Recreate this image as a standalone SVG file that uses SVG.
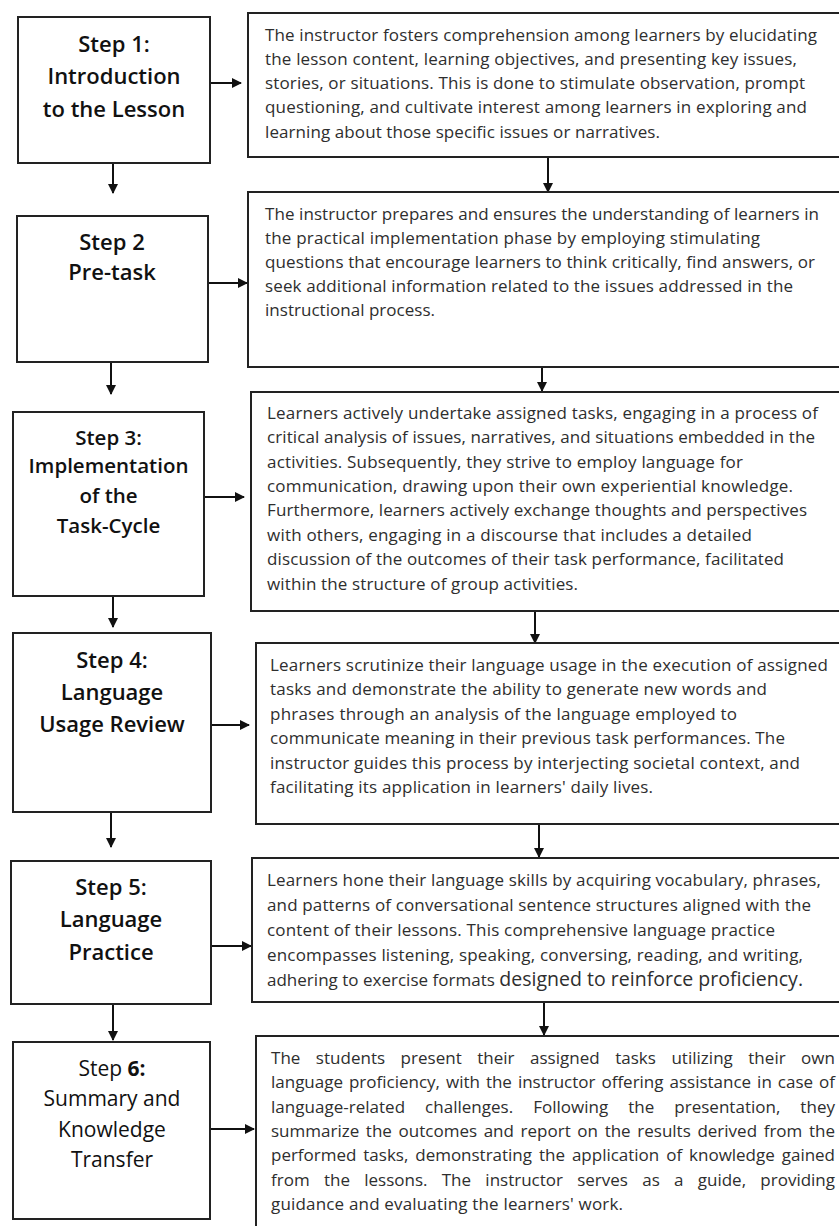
<svg xmlns="http://www.w3.org/2000/svg" width="839" height="1226" viewBox="0 0 839 1226">
<style>
.box{fill:#fff;stroke:#222;stroke-width:2}
.t{font-family:"Open Sans","Noto Sans","Liberation Sans",sans-serif;font-size:22px;font-weight:600;fill:#111;text-anchor:middle}
.t3{font-size:20.5px;font-weight:600}
.t6{font-size:21px;font-weight:400}
.b{font-family:"Open Sans","Noto Sans","Liberation Sans",sans-serif;font-size:17px;fill:#2e2e2e}
.c{stroke:#111;stroke-width:2;fill:none;marker-end:url(#ah)}
</style>
<defs>
<marker id="ah" markerWidth="10" markerHeight="10" refX="9" refY="5" orient="auto" markerUnits="userSpaceOnUse">
<path d="M0,0 L10,5 L0,10 Z" fill="#111"/>
</marker>
</defs>
<rect width="839" height="1226" fill="#fff"/>

<g id="connectors">
<line class="c" x1="210" y1="83" x2="241" y2="83"/>
<line class="c" x1="113" y1="163" x2="113" y2="193"/>
<line class="c" x1="548" y1="157" x2="548" y2="192"/>
<line class="c" x1="208" y1="283" x2="247" y2="283"/>
<line class="c" x1="111" y1="362" x2="111" y2="394"/>
<line class="c" x1="542" y1="367" x2="542" y2="391"/>
<line class="c" x1="204" y1="497" x2="244" y2="497"/>
<line class="c" x1="113" y1="596" x2="113" y2="627"/>
<line class="c" x1="535" y1="611" x2="535" y2="643"/>
<line class="c" x1="211" y1="725" x2="249" y2="725"/>
<line class="c" x1="111" y1="812" x2="111" y2="847"/>
<line class="c" x1="539" y1="824" x2="539" y2="857"/>
<line class="c" x1="211" y1="946" x2="251" y2="946"/>
<line class="c" x1="113" y1="1004" x2="113" y2="1040"/>
<line class="c" x1="544" y1="1002" x2="544" y2="1035"/>
<line class="c" x1="210" y1="1129" x2="254" y2="1129"/>
</g>

<g id="step1">
<rect class="box" x="18" y="17" width="192" height="146"/>
<text class="t" x="114" y="52">Step 1:</text>
<text class="t" x="114" y="84">Introduction</text>
<text class="t" x="114" y="117">to the Lesson</text>
</g>
<g id="desc1">
<rect class="box" x="248" y="13" width="600" height="144"/>
<text class="b" x="265" y="41" textLength="552">The instructor fosters comprehension among learners by elucidating</text>
<text class="b" x="265" y="65" textLength="532">the lesson content, learning objectives, and presenting key issues,</text>
<text class="b" x="265" y="89" textLength="540">stories, or situations. This is done to stimulate observation, prompt</text>
<text class="b" x="265" y="113" textLength="542">questioning, and cultivate interest among learners in exploring and</text>
<text class="b" x="265" y="138" textLength="395">learning about those specific issues or narratives.</text>
</g>

<g id="step2">
<rect class="box" x="17" y="216" width="191" height="146"/>
<text class="t" x="112" y="250">Step 2</text>
<text class="t" x="112" y="280">Pre-task</text>
</g>
<g id="desc2">
<rect class="box" x="248" y="192" width="600" height="175"/>
<text class="b" x="265" y="220" textLength="554">The instructor prepares and ensures the understanding of learners in</text>
<text class="b" x="265" y="244" textLength="495">the practical implementation phase by employing stimulating</text>
<text class="b" x="265" y="268" textLength="550">questions that encourage learners to think critically, find answers, or</text>
<text class="b" x="265" y="292" textLength="528">seek additional information related to the issues addressed in the</text>
<text class="b" x="265" y="316" textLength="170">instructional process.</text>
</g>

<g id="step3">
<rect class="box" x="13" y="412" width="191" height="184"/>
<text class="t t3" x="108.5" y="445">Step 3:</text>
<text class="t t3" x="108.5" y="473">Implementation</text>
<text class="t t3" x="108.5" y="503">of the</text>
<text class="t t3" x="108.5" y="533">Task-Cycle</text>
</g>
<g id="desc3">
<rect class="box" x="251" y="392" width="600" height="219"/>
<text class="b" x="267" y="419" textLength="551">Learners actively undertake assigned tasks, engaging in a process of</text>
<text class="b" x="267" y="443" textLength="548">critical analysis of issues, narratives, and situations embedded in the</text>
<text class="b" x="267" y="468" textLength="476">activities. Subsequently, they strive to employ language for</text>
<text class="b" x="267" y="492" textLength="526">communication, drawing upon their own experiential knowledge.</text>
<text class="b" x="267" y="516" textLength="540">Furthermore, learners actively exchange thoughts and perspectives</text>
<text class="b" x="267" y="541" textLength="485">with others, engaging in a discourse that includes a detailed</text>
<text class="b" x="267" y="565" textLength="517">discussion of the outcomes of their task performance, facilitated</text>
<text class="b" x="267" y="590" textLength="311">within the structure of group activities.</text>
</g>

<g id="step4">
<rect class="box" x="13" y="633" width="198" height="179"/>
<text class="t" x="112" y="668">Step 4:</text>
<text class="t" x="112" y="700">Language</text>
<text class="t" x="112" y="732">Usage Review</text>
</g>
<g id="desc4">
<rect class="box" x="256" y="643" width="600" height="181"/>
<text class="b" x="270" y="671" textLength="558">Learners scrutinize their language usage in the execution of assigned</text>
<text class="b" x="270" y="695" textLength="497">tasks and demonstrate the ability to generate new words and</text>
<text class="b" x="270" y="720" textLength="467">phrases through an analysis of the language employed to</text>
<text class="b" x="270" y="744" textLength="515">communicate meaning in their previous task performances. The</text>
<text class="b" x="270" y="769" textLength="530">instructor guides this process by interjecting societal context, and</text>
<text class="b" x="270" y="793" textLength="383">facilitating its application in learners' daily lives.</text>
</g>

<g id="step5">
<rect class="box" x="11" y="861" width="200" height="143"/>
<text class="t" x="111" y="895">Step 5:</text>
<text class="t" x="111" y="927">Language</text>
<text class="t" x="111" y="960">Practice</text>
</g>
<g id="desc5">
<rect class="box" x="252" y="858" width="600" height="144"/>
<text class="b" x="267" y="886" textLength="554">Learners hone their language skills by acquiring vocabulary, phrases,</text>
<text class="b" x="267" y="911" textLength="544">and patterns of conversational sentence structures aligned with the</text>
<text class="b" x="267" y="936" textLength="508">content of their lessons. This comprehensive language practice</text>
<text class="b" x="267" y="961" textLength="536">encompasses listening, speaking, conversing, reading, and writing,</text>
<text class="b" x="267" y="986" textLength="536">adhering to exercise formats <tspan font-size="19.5">designed to reinforce proficiency.</tspan></text>
</g>

<g id="step6">
<rect class="box" x="13" y="1042" width="197" height="177"/>
<text class="t t6" x="112" y="1076">Step <tspan font-weight="700">6:</tspan></text>
<text class="t t6" x="112" y="1106">Summary and</text>
<text class="t t6" x="112" y="1137">Knowledge</text>
<text class="t t6" x="112" y="1167">Transfer</text>
</g>
<g id="desc6">
<rect class="box" x="256" y="1036" width="600" height="210"/>
<text class="b" x="271" y="1064" word-spacing="11" textLength="564">The students present their assigned tasks utilizing their own</text>
<text class="b" x="271" y="1088" word-spacing="1.6" textLength="564">language proficiency, with the instructor offering assistance in case of</text>
<text class="b" x="271" y="1113" word-spacing="15.5" textLength="564">language-related challenges. Following the presentation, they</text>
<text class="b" x="271" y="1137" word-spacing="2.2" textLength="564">summarize the outcomes and report on the results derived from the</text>
<text class="b" x="271" y="1161" word-spacing="2.6" textLength="564">performed tasks, demonstrating the application of knowledge gained</text>
<text class="b" x="271" y="1186" word-spacing="9.9" textLength="564">from the lessons. The instructor serves as a guide, providing</text>
<text class="b" x="271" y="1210" textLength="352">guidance and evaluating the learners' work.</text>
</g>
</svg>
